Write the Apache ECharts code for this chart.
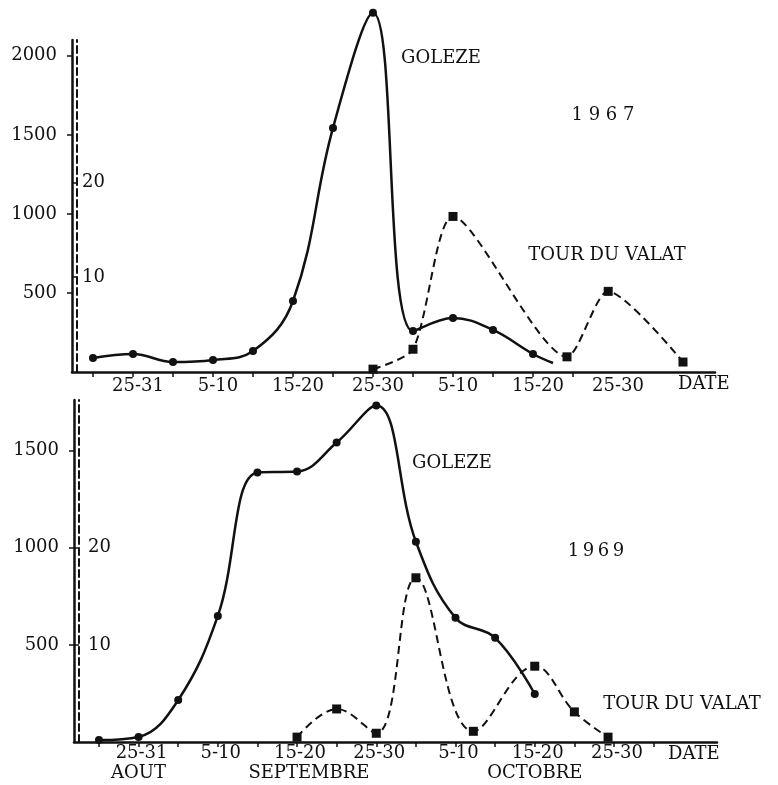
<!DOCTYPE html>
<html>
<head>
<meta charset="utf-8">
<script src="https://cdn.jsdelivr.net/npm/echarts@6/dist/echarts.min.js"></script>
<style>
html,body{margin:0;padding:0;background:#fff;}
#c{width:778px;height:785px;}
</style>
</head>
<body>
<div id="c"></div>
<script>
// ---- data (x in 5-day tick slots, slot 0 = first tick of the axis) ----
const dateLabels = ['25-31', '5-10', '15-20', '25-30', '5-10', '15-20', '25-30'];
const dateLabelSlots = [1, 3, 5, 7, 9, 11, 13];
const monthLabels = ['AOUT', 'SEPTEMBRE', 'OCTOBRE'];
const monthSlots = [1, 5.3, 11];
const ticksTop = [0, 1, 2, 3, 4, 5, 6, 7, 8, 9, 10, 11, 12];
const ticksBottom = [0, 1, 2, 3, 4, 5, 6, 7, 8, 9, 10, 11, 12, 13, 14];
const goleTicks1967 = [500, 1000, 1500, 2000];
const goleTicks1969 = [500, 1000, 1500];
const tourTicks = [10, 20];

// 1967
const goleze1967X = [0, 1, 2, 3, 4, 5, 6, 7, 8, 9, 10, 11, 11.5];
const goleze1967Y = [89, 114, 63, 76, 133, 449, 1544, 2272, 259, 342, 266, 114, 57];
const tour1967X = [7, 8, 9, 11.85, 12.88, 14.75];
const tour1967Y = [0.3, 2.4, 16.4, 1.6, 8.5, 1.05];
// 1969
const goleze1969X = [0, 1, 2, 3, 4, 5, 6, 7, 8, 9, 10, 11];
const goleze1969Y = [10, 26, 216, 649, 1387, 1392, 1541, 1732, 1031, 639, 536, 247];
const tour1969X = [5, 6, 7, 8, 9.45, 11, 12, 12.85];
const tour1969Y = [0.5, 3.4, 0.9, 16.9, 1.1, 7.8, 3.1, 0.5];

const INK = '#111';
const FONT = 'DejaVu Serif';

function pairs(xs, ys, noMarkLast) {
  return xs.map((x, i) => {
    if (noMarkLast && i === xs.length - 1) return { value: [x, ys[i]], symbol: 'none' };
    return [x, ys[i]];
  });
}

function dateAxis(grid, min, max, ticks, margin, nameGap, shift) {
  return {
    gridIndex: grid, type: 'value', min: min, max: max, position: 'bottom',
    name: 'DATE', nameLocation: 'end', nameGap: nameGap,
    nameTextStyle: { color: INK, fontFamily: FONT, fontSize: 18, align: 'left', verticalAlign: 'top', padding: [3, 0, 0, 0] },
    axisLine: { onZero: false, lineStyle: { color: INK, width: 2.5 } },
    axisTick: { customValues: ticks, length: 5, lineStyle: { color: INK, width: 1.5 } },
    axisLabel: {
      customValues: dateLabelSlots, margin: margin, color: INK, fontFamily: FONT, fontSize: 18,
      formatter: v => { const i = dateLabelSlots.indexOf(v); return i >= 0 ? '{s|' + dateLabels[i] + '}' : ''; },
      rich: { s: { fontFamily: FONT, fontSize: 18, color: INK, padding: [0, 0, 0, shift] } }
    },
    splitLine: { show: false }
  };
}

function goleAxis(grid, max, ticks) {
  return {
    gridIndex: grid, type: 'value', min: 0, max: max, position: 'left',
    axisLine: { onZero: false, lineStyle: { color: INK, width: 2.5 } },
    axisTick: { customValues: ticks, length: 5, lineStyle: { color: INK, width: 1.5 } },
    axisLabel: { customValues: ticks, margin: 15, color: INK, fontFamily: FONT, fontSize: 18, padding: [7, 0, 0, 0],
      formatter: v => String(v) },
    splitLine: { show: false }
  };
}

function tourAxis(grid, max, offset, margin) {
  return {
    gridIndex: grid, type: 'value', min: 0, max: max, position: 'left', offset: offset,
    axisLine: { onZero: false, lineStyle: { color: INK, width: 2, type: [7, 4] } },
    axisTick: { customValues: tourTicks, length: 4, lineStyle: { color: INK, width: 1.5 } },
    axisLabel: { customValues: tourTicks, inside: true, margin: margin, color: INK, fontFamily: FONT, fontSize: 18, padding: [4, 0, 0, 0],
      formatter: v => String(v) },
    splitLine: { show: false }
  };
}

const goleStyle = {
  type: 'line', smooth: 0.4, clip: false, symbol: 'circle', symbolSize: 8, showAllSymbol: true,
  lineStyle: { color: INK, width: 2.5 }, itemStyle: { color: INK }, z: 5
};
const tourStyle = {
  type: 'line', smooth: 0.4, clip: false, symbol: 'rect', symbolSize: 9, showAllSymbol: true,
  lineStyle: { color: INK, width: 2, type: [8, 5] }, itemStyle: { color: INK }, z: 4
};

function txt(text, x, y) {
  return { type: 'text', x: x, y: y, z: 10,
    style: { text: text, fill: INK, font: '18px "DejaVu Serif"', align: 'center', verticalAlign: 'middle' } };
}

const option = {
  animation: false,
  backgroundColor: '#fff',
  textStyle: { fontFamily: FONT },
  grid: [
    { left: 72, right: 63, top: 40, height: 332 },
    { left: 74, right: 61, top: 400, height: 342 }
  ],
  xAxis: [
    dateAxis(0, -0.525, 15.55, ticksTop, 5, -37, 10),
    dateAxis(1, -0.63, 15.6, ticksBottom, 2, -49, 6),
    {
      gridIndex: 1, type: 'value', min: -0.63, max: 15.6, position: 'bottom',
      axisLine: { show: false, onZero: false }, axisTick: { show: false }, splitLine: { show: false },
      axisLabel: {
        customValues: monthSlots, margin: 22, color: INK, fontFamily: FONT, fontSize: 18,
        formatter: v => { const i = monthSlots.indexOf(v); return i >= 0 ? monthLabels[i] : ''; }
      }
    }
  ],
  yAxis: [
    goleAxis(0, 2100, goleTicks1967),
    tourAxis(0, 35, -5, 5),
    goleAxis(1, 1760, goleTicks1969),
    tourAxis(1, 35.2, -5, 9)
  ],
  series: [
    Object.assign({}, goleStyle, { name: 'GOLEZE 1967', xAxisIndex: 0, yAxisIndex: 0, data: pairs(goleze1967X, goleze1967Y, true) }),
    Object.assign({}, tourStyle, { name: 'TOUR DU VALAT 1967', xAxisIndex: 0, yAxisIndex: 1, smooth: 0.25, data: pairs(tour1967X, tour1967Y) }),
    Object.assign({}, goleStyle, { name: 'GOLEZE 1969', xAxisIndex: 1, yAxisIndex: 2, data: pairs(goleze1969X, goleze1969Y) }),
    Object.assign({}, tourStyle, { name: 'TOUR DU VALAT 1969', xAxisIndex: 1, yAxisIndex: 3, data: pairs(tour1969X, tour1969Y) })
  ],
  graphic: [
    txt('GOLEZE', 441, 58),
    txt('1 9 6 7', 603, 115),
    txt('TOUR DU VALAT', 607, 255),
    txt('GOLEZE', 452, 463),
    txt('1\u20099\u20096\u20099', 596, 551),
    txt('TOUR DU VALAT', 682, 704)
  ]
};

const chart = echarts.init(document.getElementById('c'), null, { renderer: 'canvas' });
chart.setOption(option);
</script>
</body>
</html>
